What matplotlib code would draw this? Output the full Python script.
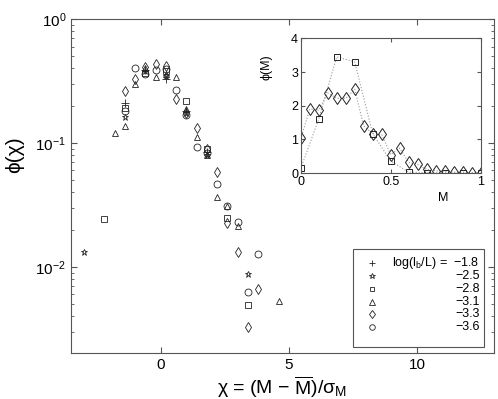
import matplotlib
matplotlib.use('Agg')
import matplotlib.pyplot as plt
from matplotlib.patches import Rectangle

plt.rcParams['font.family'] = ['Liberation Sans', 'DejaVu Sans']
plt.rcParams['mathtext.default'] = 'regular'

# ---- main panel data: phi(chi) per log(l_b/L) ----
legend_values = ['\u22121.8', '\u22122.5', '\u22122.8', '\u22123.1', '\u22123.3', '\u22123.6']
markers = ['+', '*', 's', '^', 'd', 'o']

x_plus = [-1.4, -0.6, 0.2, 1.0, 1.8]
y_plus = [0.21, 0.39, 0.33, 0.18, 0.085]

x_star = [-3.0, -1.4, -0.6, 0.2, 1.0, 1.8, 3.4]
y_star = [0.0132, 0.163, 0.38, 0.35, 0.175, 0.08, 0.0087]

x_square = [-2.2, -1.4, -0.6, 0.2, 1.0, 1.8, 2.6, 3.4]
y_square = [0.0244, 0.19, 0.37, 0.38, 0.22, 0.09, 0.0247, 0.0049]

x_tri = [-1.8, -1.4, -1.0, -0.6, -0.2, 0.2, 0.6, 1.0, 1.4, 1.8, 2.2, 2.6, 3.0, 4.6]
y_tri = [0.121, 0.138, 0.299, 0.40, 0.343, 0.36, 0.338, 0.187, 0.112, 0.08, 0.0369, 0.0312, 0.0212, 0.00528]

x_diam = [-1.4, -1.0, -0.6, -0.2, 0.2, 0.6, 1.0, 1.4, 1.8, 2.2, 2.6, 3.0, 3.4, 3.8]
y_diam = [0.264, 0.328, 0.41, 0.43, 0.42, 0.226, 0.175, 0.133, 0.09, 0.0587, 0.0226, 0.0132, 0.00328, 0.0066]

x_circ = [-1.4, -1.0, -0.6, -0.2, 0.2, 0.6, 1.0, 1.4, 1.8, 2.2, 2.6, 3.0, 3.4, 3.8]
y_circ = [0.18, 0.403, 0.36, 0.388, 0.395, 0.266, 0.168, 0.093, 0.083, 0.0464, 0.031, 0.0232, 0.00629, 0.0126]

# ---- inset data: phi(M) ----
M_diam = [0.0, 0.05, 0.1, 0.15, 0.2, 0.25, 0.3, 0.35, 0.4, 0.45, 0.5, 0.55, 0.6, 0.65, 0.7, 0.75, 0.8, 0.85, 0.9, 0.95, 1.0]
phi_diam = [1.03, 1.9, 1.87, 2.38, 2.22, 2.22, 2.49, 1.40, 1.17, 1.15, 0.55, 0.74, 0.32, 0.26, 0.11, 0.07, 0.05, 0.03, 0.03, 0.01, 0.01]
M_sq = [0.0, 0.1, 0.2, 0.3, 0.4, 0.5, 0.6, 0.7, 0.8, 0.9, 1.0]
phi_sq = [0.14, 1.61, 3.45, 3.30, 1.17, 0.36, 0.03, 0.01, 0.01, 0.01, 0.01]

ink = '#222222'
spine_c = '#555555'

fig = plt.figure(figsize=(4.98, 3.99), dpi=100)
ax = fig.add_axes([0.1426, 0.1153, 0.849, 0.837])
ax.set_yscale('log')

series = [(x_plus, y_plus), (x_star, y_star), (x_square, y_square),
          (x_tri, y_tri), (x_diam, y_diam), (x_circ, y_circ)]
sizes = [6, 5, 4, 5, 5.5, 5]
for (xs, ys), m, s in zip(series, markers, sizes):
    ax.plot(xs, ys, linestyle='none', marker=m, ms=s, mfc='none', mec=ink, mew=0.6)

ax.set_xlim(-3.5, 13)
ax.set_ylim(0.00202, 1)
ax.set_xticks([0, 5, 10])
ax.tick_params(which='both', direction='in', top=True, right=True, labelsize=11, color=spine_c)
ax.tick_params(which='major', length=4)
ax.tick_params(which='minor', length=2)
for sp in ax.spines.values():
    sp.set_color(spine_c)
    sp.set_linewidth(0.8)

ax.set_ylabel('\u03d5(\u03c7)', fontsize=15)
ax.yaxis.set_label_coords(-0.112, 0.593)
ax.set_xlabel(r'$\chi$ = (M $-$ $\overline{M}$)/$\sigma_M$', fontsize=14)
ax.xaxis.set_label_coords(0.5, -0.062)

# manual legend
lx0, ly0, lx1, ly1 = 0.667, 0.018, 0.976, 0.311
ax.add_patch(Rectangle((lx0, ly0), lx1 - lx0, ly1 - ly0, transform=ax.transAxes,
                       facecolor='white', edgecolor=spine_c, lw=0.8, zorder=5))
row_y = [0.268, 0.230, 0.192, 0.154, 0.116, 0.078]
for yy, m, s, lab, i in zip(row_y, markers, sizes, legend_values, range(6)):
    ax.plot([0.712], [yy], transform=ax.transAxes, marker=m, ms=s - 1, mfc='none',
            mec=ink, mew=0.6, linestyle='none', zorder=6, clip_on=False)
    txt = ('log(l$_b$/L) =  ' + lab) if i == 0 else lab
    ax.text(0.967, yy, txt, transform=ax.transAxes, ha='right', va='center',
            fontsize=9, zorder=6)

# inset
ins = fig.add_axes([0.604, 0.566, 0.361, 0.338])
ins.plot(M_sq, phi_sq, linestyle=':', color='#999999', lw=0.8, marker='s', ms=4.5,
         mfc='none', mec=ink, mew=0.7)
ins.plot(M_diam, phi_diam, linestyle=':', color='#999999', lw=0.8, marker='d', ms=6.5,
         mfc='none', mec=ink, mew=0.7)
ins.set_xlim(0, 1)
ins.set_ylim(0, 4)
ins.set_xticks([0, 0.5, 1])
ins.set_xticklabels(['0', '0.5', '1'])
ins.set_yticks([0, 1, 2, 3, 4])
ins.tick_params(direction='in', top=True, right=True, labelsize=9, length=3,
                pad=2, color=spine_c)
for sp in ins.spines.values():
    sp.set_color(spine_c)
    sp.set_linewidth(0.8)
ins.set_xlabel('M', fontsize=9)
ins.xaxis.set_label_coords(0.794, -0.14)
ins.set_ylabel('\u03d5(M)', fontsize=9)
ins.yaxis.set_label_coords(-0.156, 0.785)

fig.savefig('out.png', dpi=100)
